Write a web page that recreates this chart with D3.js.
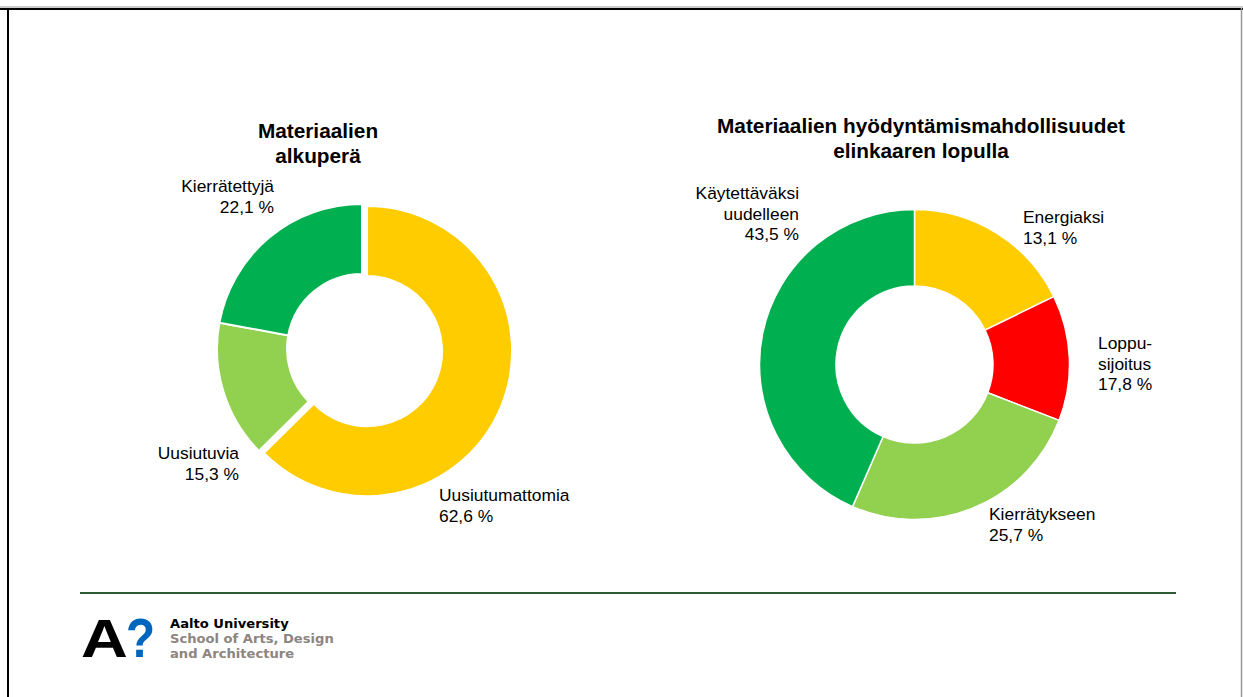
<html>
<head>
    <script src="https://d3js.org/d3.v7.min.js"></script>
    <style>
        body { margin: 0; background: white; }
        text { font-family: "Liberation Sans", Arial, sans-serif; }
    </style>
</head>
<body>
<div id="chart"></div>

<script>
    // left chart: origin of materials
    var leftTitle = ["Materiaalien", "alkuperä"]
    var leftNames = ["Uusiutumattomia", "Uusiutuvia", "Kierrätettyjä"]
    var leftValues = [62.6, 15.3, 22.1]
    var leftLabels = [["Uusiutumattomia", "62,6 %"], ["Uusiutuvia", "15,3 %"], ["Kierrätettyjä", "22,1 %"]]
    var leftColors = ["#FFCC00", "#92D050", "#00B050"]

    // right chart: end of life use
    var rightTitle = ["Materiaalien hyödyntämismahdollisuudet", "elinkaaren lopulla"]
    var rightNames = ["Energiaksi", "Loppusijoitus", "Kierrätykseen", "Käytettäväksi uudelleen"]
    var rightValues = [17.8, 13.1, 25.7, 43.5]
    var rightLabels = [["Energiaksi", "13,1 %"], ["Loppu-", "sijoitus", "17,8 %"], ["Kierrätykseen", "25,7 %"], ["Käytettäväksi", "uudelleen", "43,5 %"]]
    var rightColors = ["#FFCC00", "#FF0000", "#92D050", "#00B050"]

    var W = 1243, H = 697

    var svg = d3.select("#chart")
        .append("svg")
        .attr("width", W)
        .attr("height", H)

    // slide frame
    svg.append("line").attr("x1", 0).attr("x2", W).attr("y1", 7).attr("y2", 7)
        .attr("stroke", "#999").attr("stroke-width", 1)
    svg.append("line").attr("x1", 0).attr("x2", W).attr("y1", 9).attr("y2", 9)
        .attr("stroke", "black").attr("stroke-width", 2)
    svg.append("line").attr("x1", 8).attr("x2", 8).attr("y1", 8).attr("y2", H)
        .attr("stroke", "black").attr("stroke-width", 2)
    svg.append("line").attr("x1", 1241.5).attr("x2", 1241.5).attr("y1", 8).attr("y2", H)
        .attr("stroke", "#999").attr("stroke-width", 1.5)

    function drawDonut(opt) {
        var g = svg.append("g")
            .attr("transform", "translate(" + opt.cx + "," + opt.cy + ")")

        var pie = d3.pie().sort(null).value(function (d) { return d })
        var arc = d3.arc().innerRadius(opt.inner).outerRadius(opt.outer)
        var arcs = pie(opt.values)

        g.selectAll("path")
            .data(arcs)
            .enter()
            .append("path")
            .attr("d", arc)
            .attr("fill", function (d, i) { return opt.colors[i] })
            .attr("stroke", "white")
            .attr("stroke-width", opt.stroke)
            .attr("transform", function (d, i) {
                var ex = opt.explode[i] || 0
                var a = (d.startAngle + d.endAngle) / 2
                return "translate(" + (Math.sin(a) * ex) + "," + (-Math.cos(a) * ex) + ")"
            })

        // title
        var t = svg.append("text")
            .attr("text-anchor", "middle")
            .attr("font-weight", "bold")
            .attr("font-size", "20.8px")
            .attr("fill", "black")
        opt.title.forEach(function (line, i) {
            t.append("tspan")
                .attr("x", opt.titleX)
                .attr("y", opt.titleY + i * 25)
                .text(line)
        })

        // data labels
        opt.labels.forEach(function (lines, i) {
            var p = opt.labelPos[i]
            var lt = svg.append("text")
                .attr("text-anchor", p[2])
                .attr("font-size", "17.4px")
                .attr("fill", "black")
            lines.forEach(function (line, j) {
                lt.append("tspan")
                    .attr("x", p[0])
                    .attr("y", p[1] + j * 20.5)
                    .text(line)
            })
        })
    }

    drawDonut({
        cx: 362, cy: 349, outer: 145, inner: 75, stroke: 2,
        values: leftValues, colors: leftColors, explode: [5.5, 0, 0],
        title: leftTitle, titleX: 318, titleY: 138,
        labels: leftLabels,
        labelPos: [[439, 501, "start"], [239, 459, "end"], [274, 192, "end"]]
    })

    drawDonut({
        cx: 914.5, cy: 364.5, outer: 155, inner: 78.5, stroke: 1.5,
        values: rightValues, colors: rightColors, explode: [0, 0, 0, 0],
        title: rightTitle, titleX: 921, titleY: 133,
        labels: rightLabels,
        labelPos: [[1023, 223, "start"], [1098, 349, "start"], [989, 520, "start"], [799, 199, "end"]]
    })

    // footer rule
    svg.append("line")
        .attr("x1", 80).attr("x2", 1176)
        .attr("y1", 593).attr("y2", 593)
        .attr("stroke", "#2E5A33").attr("stroke-width", 2)

    // Aalto logo
    svg.append("text")
        .attr("transform", "translate(81,657) scale(1.2,1)")
        .attr("font-size", "54px").attr("font-weight", "bold")
        .attr("fill", "black")
        .text("A")
    svg.append("text")
        .attr("transform", "translate(126,657) scale(0.85,1)")
        .attr("font-size", "56px").attr("font-weight", "bold")
        .attr("fill", "#0065BD")
        .text("?")

    var logoLines = ["Aalto University", "School of Arts, Design", "and Architecture"]
    logoLines.forEach(function (line, i) {
        svg.append("text")
            .attr("x", 170).attr("y", 628 + i * 15)
            .attr("font-size", "13.1px").attr("font-weight", "bold")
            .style("font-family", "'DejaVu Sans', sans-serif")
            .attr("fill", i == 0 ? "black" : "#8C8580")
            .text(line)
    })
</script>

</body>
</html>
